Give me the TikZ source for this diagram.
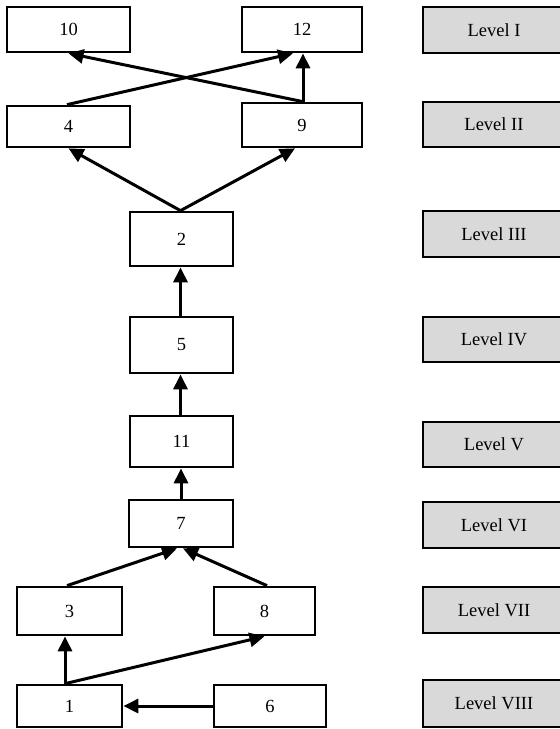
\documentclass[tikz,border=0pt]{standalone}
\usepackage{fontspec}
\setmainfont{Liberation Serif}
\usetikzlibrary{arrows.meta}
\definecolor{lvlgray}{HTML}{D9D9D9}
\begin{document}
\begin{tikzpicture}[x=1pt,y=-1pt,
  box/.style={draw=black, line width=2.7pt, fill=white, inner sep=0pt, font=\fontsize{18.5}{20}\selectfont},
  lvl/.style={draw=black, line width=2.7pt, fill=lvlgray, inner sep=0pt, minimum width=142pt, font=\fontsize{18.5}{20}\selectfont},
  arr/.style={line width=3pt, -{Triangle[length=15pt,width=14pt]}}
]
\useasboundingbox (0,0) rectangle (560,729);
\clip (0,0) rectangle (560,729);
\fill[white] (0,0) rectangle (560,729);
% task boxes
\node[box, minimum width=123pt, minimum height=45pt] (n10) at (68.5,29.5) {10};
\node[box, minimum width=120pt, minimum height=45pt] (n12) at (302,29.5) {12};
\node[box, minimum width=123pt, minimum height=41pt] (n4) at (68.5,126.5) {4};
\node[box, minimum width=120pt, minimum height=44pt] (n9) at (302,125) {9};
\node[box, minimum width=103pt, minimum height=54pt] (n2) at (181.5,239) {2};
\node[box, minimum width=103pt, minimum height=56pt] (n5) at (181.5,345) {5};
\node[box, minimum width=103pt, minimum height=51pt] (n11) at (181.5,441.5) {11};
\node[box, minimum width=104pt, minimum height=47pt] (n7) at (181,523.5) {7};
\node[box, minimum width=105pt, minimum height=48pt] (n3) at (69.5,611) {3};
\node[box, minimum width=101pt, minimum height=48pt] (n8) at (264.5,611) {8};
\node[box, minimum width=105pt, minimum height=42pt] (n1) at (69.5,706) {1};
\node[box, minimum width=112pt, minimum height=42pt] (n6) at (270,706) {6};
% level boxes
\node[lvl, minimum height=46pt] (l1) at (494,30) {Level I};
\node[lvl, minimum height=45pt] (l2) at (494,124.5) {Level II};
\node[lvl, minimum height=46pt] (l3) at (494,234) {Level III};
\node[lvl, minimum height=45pt] (l4) at (494,339.5) {Level IV};
\node[lvl, minimum height=45pt] (l5) at (494,444.5) {Level V};
\node[lvl, minimum height=46pt] (l6) at (494,525) {Level VI};
\node[lvl, minimum height=46pt] (l7) at (494,610) {Level VII};
\node[lvl, minimum height=47pt] (l8) at (494,703.5) {Level VIII};
% arrows
\draw[arr] ([xshift=-1pt]n2.north) -- (n4.south);
\draw[arr] ([xshift=-1pt]n2.north) -- ([xshift=-7pt]n9.south);
\draw[arr] ([xshift=-1.5pt]n4.north) -- ([xshift=-9pt]n12.south);
\draw[arr] ([xshift=1pt]n9.north) -- (n10.south);
\draw[arr] ([xshift=1pt]n9.north) -- ([xshift=1pt]n12.south);
\draw[arr] ([xshift=-1pt]n5.north) -- ([xshift=-1pt]n2.south);
\draw[arr] ([xshift=-1pt]n11.north) -- ([xshift=-1pt]n5.south);
\draw[arr] (n7.north) -- ([xshift=-0.5pt]n11.south);
\draw[arr] ([xshift=-2.5pt]n3.north) -- ([xshift=-4pt]n7.south);
\draw[arr] ([xshift=2.5pt]n8.north) -- ([xshift=2pt]n7.south);
\draw[arr] ([xshift=-4.5pt]n1.north) -- ([xshift=-4.5pt]n3.south);
\draw[arr] ([xshift=-4.5pt]n1.north) -- (n8.south);
\draw[arr] (n6.west) -- (n1.east);
\end{tikzpicture}
\end{document}
